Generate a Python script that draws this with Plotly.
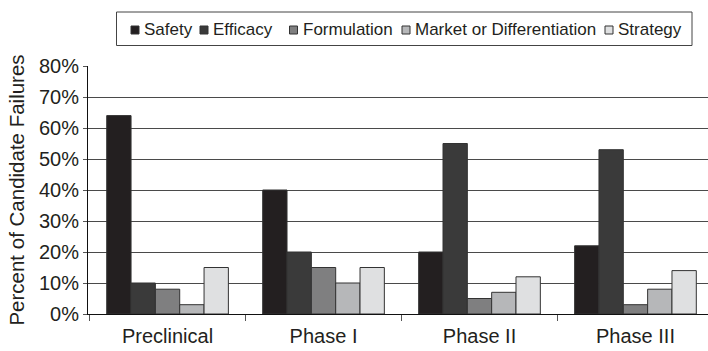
import plotly.graph_objects as go

# Development phases and failure reasons (percent of candidate failures)
phases = ["Preclinical", "Phase I", "Phase II", "Phase III"]
reasons = ["Safety", "Efficacy", "Formulation", "Market or Differentiation", "Strategy"]
safety = [64, 40, 20, 22]
efficacy = [10, 20, 55, 53]
formulation = [8, 15, 5, 3]
market = [3, 10, 7, 8]
strategy = [15, 15, 12, 14]
y_ticks = [0, 10, 20, 30, 40, 50, 60, 70, 80]

series = [safety, efficacy, formulation, market, strategy]
colors = ["#231f20", "#3a3a3a", "#7f7f80", "#b6b7b9", "#dfe0e1"]

FONT = "Liberation Sans, Arial, Helvetica, sans-serif"
TEXT = "#231f20"

fig = go.Figure()
for name, vals, col in zip(reasons, series, colors):
    fig.add_trace(go.Bar(
        x=phases, y=vals, name=name,
        marker=dict(color=col, line=dict(color="#333333", width=1)),
        showlegend=False,
    ))

# Plot-area geometry (pixels) used to place the boxed legend above the axes
L, R, T, B = 88, 708, 66, 314


def xp(px):
    return (px - L) / (R - L)


def yp(py):
    return (B - py) / (B - T)


shapes = [dict(type="rect", xref="paper", yref="paper",
               x0=xp(116.5), x1=xp(692), y0=yp(45.5), y1=yp(12),
               line=dict(color="#444444", width=1), fillcolor="white")]
annotations = []
text_starts = [143, 212, 301.5, 414, 617]
for name, col, tx in zip(reasons, colors, text_starts):
    shapes.append(dict(type="rect", xref="paper", yref="paper",
                       x0=xp(tx - 12), x1=xp(tx - 4), y0=yp(34), y1=yp(26),
                       line=dict(color="#333333", width=1), fillcolor=col))
    annotations.append(dict(xref="paper", yref="paper", x=xp(tx - 1), y=yp(29.5),
                            text=name, showarrow=False, xanchor="left", yanchor="middle",
                            font=dict(family=FONT, size=17, color=TEXT)))

fig.update_layout(
    width=708, height=351,
    margin=dict(l=L, r=708 - R, t=T, b=351 - B),
    paper_bgcolor="white", plot_bgcolor="white",
    barmode="group", bargap=0.22, bargroupgap=0,
    font=dict(family=FONT, color=TEXT, size=20),
    shapes=shapes, annotations=annotations,
    showlegend=False,
)
fig.update_xaxes(
    type="category", range=[-0.51, 3.465],
    showline=True, linecolor="#111111", linewidth=1,
    ticks="outside", tickson="boundaries", ticklen=6, tickcolor="#555555",
    tickfont=dict(size=20, color=TEXT), ticklabelstandoff=4, showgrid=False,
)
fig.update_yaxes(
    range=[0, 80], tickvals=y_ticks, ticktext=[f"{v}%" for v in y_ticks],
    showline=True, linecolor="#111111", linewidth=1,
    ticks="outside", ticklen=4, tickcolor="#555555",
    showgrid=True, gridcolor="#4a4a4a", gridwidth=1,
    tickfont=dict(size=20, color=TEXT), zeroline=False,
    title=dict(text="Percent of Candidate Failures", font=dict(size=20.5, color=TEXT), standoff=8),
)

fig.write_html("out.html")
